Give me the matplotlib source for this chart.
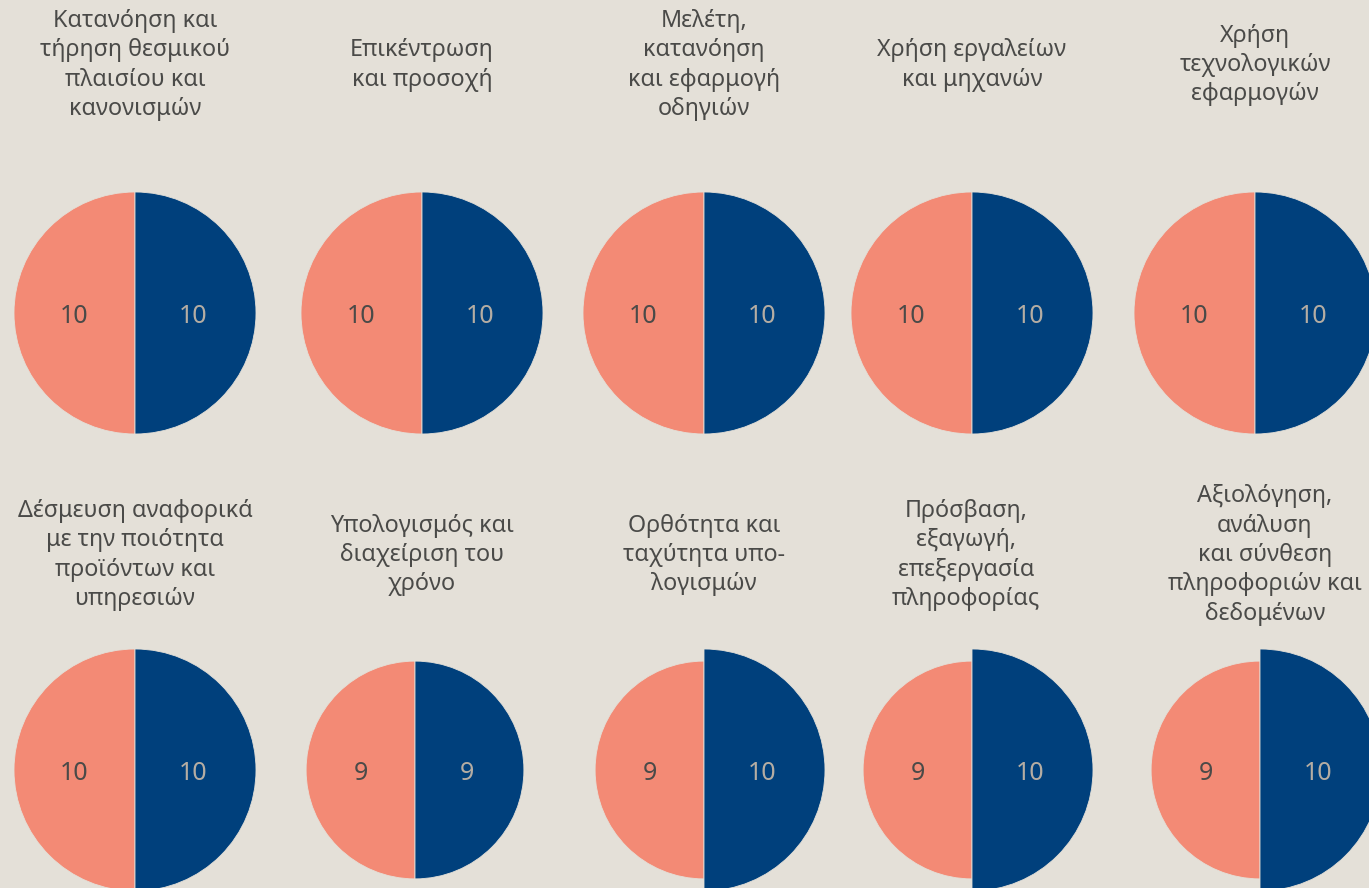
import matplotlib
matplotlib.use('Agg')
import matplotlib.pyplot as plt
from matplotlib.patches import Wedge

plt.rcParams['font.family'] = ['Noto Sans', 'DejaVu Sans']

# τίτλοι δεξιοτήτων (με τις αλλαγές γραμμής όπως στο πρωτότυπο)
titles = [
    "Κατανόηση και\nτήρηση θεσμικού\nπλαισίου και\nκανονισμών",
    "Επικέντρωση\nκαι προσοχή",
    "Μελέτη,\nκατανόηση\nκαι εφαρμογή\nοδηγιών",
    "Χρήση εργαλείων\nκαι μηχανών",
    "Χρήση\nτεχνολογικών\nεφαρμογών",
    "Δέσμευση αναφορικά\nμε την ποιότητα\nπροϊόντων και\nυπηρεσιών",
    "Υπολογισμός και\nδιαχείριση του\nχρόνο",
    "Ορθότητα και\nταχύτητα υπο-\nλογισμών",
    "Πρόσβαση,\nεξαγωγή,\nεπεξεργασία\nπληροφορίας",
    "Αξιολόγηση,\nανάλυση\nκαι σύνθεση\nπληροφοριών και\nδεδομένων",
]
left_values = [10, 10, 10, 10, 10, 10, 9, 9, 9, 9]
right_values = [10, 10, 10, 10, 10, 10, 9, 10, 10, 10]

bg = '#E4E0D8'
salmon = '#F38A75'
navy = '#00407C'

# διάταξη σε pixels
col_x = [[135, 422, 704, 972, 1255],
         [135, 415, 704, 972, 1260]]
title_x = [[135, 422, 704, 972, 1255],
           [135, 422, 704, 966, 1265]]
row_y = [313, 770]
title_y = [65, 555]
scale = 12.1  # pixels ανά μονάδα τιμής

fig = plt.figure(figsize=(13.69, 8.88), dpi=100)
fig.patch.set_facecolor(bg)
ax = fig.add_axes([0, 0, 1, 1])
ax.set_facecolor(bg)
ax.set_xlim(0, 1369)
ax.set_ylim(888, 0)
ax.set_aspect('equal')
ax.axis('off')

for i, title in enumerate(titles):
    r, c = i // 5, i % 5
    cx = col_x[r][c]
    cy = row_y[r]
    rl = left_values[i] * scale
    rr = right_values[i] * scale
    ax.add_patch(Wedge((cx, cy), rl, 90, 270, facecolor=salmon,
                       edgecolor=bg, linewidth=0.6))
    ax.add_patch(Wedge((cx, cy), rr, -90, 90, facecolor=navy,
                       edgecolor=bg, linewidth=0.6))
    ax.text(cx - 0.5 * rl, cy + 3, str(left_values[i]), ha='center', va='center',
            fontsize=18, color='#4A4A48')
    ax.text(cx + 0.48 * rr, cy + 3, str(right_values[i]), ha='center', va='center',
            fontsize=18, color='#B5ADA3')
    ax.text(title_x[r][c], title_y[r], title, ha='center', va='center',
            fontsize=16.8, color='#4A4A48', linespacing=1.3)

fig.savefig('out.png', dpi=100, facecolor=bg)
